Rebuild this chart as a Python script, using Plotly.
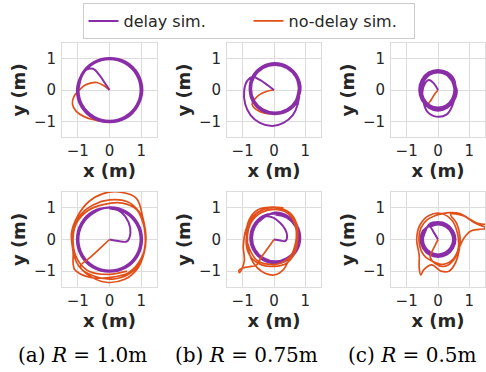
import plotly.graph_objects as go

# ---------------- data (x, y) ----------------
# Row 1 (top): panels (a) R=1.0, (b) R=0.75, (c) R=0.5
delay_top_a = [(0,0),(-0.12,0.18),(-0.3,0.45),(-0.52,0.68),(-0.74,0.64),(-0.92,0.42),
    (-1.0,0.02),(-0.87,-0.5),(-0.5,-0.87),(0,-1.0),(0.5,-0.87),(0.87,-0.5),(1.0,0),(0.87,0.5),(0.5,0.87),(0,1.0),(-0.5,0.87),(-0.87,0.5),
    (-1.03,0),(-0.9,-0.52),(-0.52,-0.9),(0,-1.03),(0.52,-0.9),(0.9,-0.5),(1.04,0),(0.9,0.52),(0.52,0.9),(0,1.02),(-0.5,0.89),(-0.88,0.5),
    (-0.98,0),(-0.85,-0.49),(-0.49,-0.85),(0,-0.98),(0.49,-0.85),(0.85,-0.49),(0.98,0),(0.85,0.49),(0.49,0.85),(0,0.98),(-0.49,0.85),(-0.85,0.49),(-0.98,0)]
nodelay_top_a = [(0,0),(-0.2,0.15),(-0.4,0.24),(-0.6,0.22),(-0.78,0.15),(-0.95,0.0),(-1.12,-0.2),(-1.17,-0.45),(-1.05,-0.68),(-0.8,-0.85),(-0.5,-0.95),
    (0,-1.02),(0.5,-0.87),(0.87,-0.5),(1.0,0),(0.87,0.5),(0.5,0.87),(0,1.0),(-0.5,0.87),(-0.87,0.5),(-1.0,0),(-0.87,-0.5),(-0.5,-0.87),
    (0,-1.01),(0.5,-0.87),(0.87,-0.5),(1.0,0),(0.87,0.5),(0.5,0.87),(0,1.0),(-0.5,0.87),(-0.87,0.5),(-1.0,0)]

delay_top_b = [(0,0),(-0.2,0.15),(-0.45,0.32),(-0.68,0.42),(-0.85,0.3),(-0.95,0.0),(-0.92,-0.45),(-0.75,-0.8),(-0.45,-1.05),(-0.05,-1.15),(0.3,-1.05),(0.6,-0.8),(0.76,-0.45),
    (0.81,0.04),(0.71,0.43),(0.42,0.72),(0.03,0.82),(-0.36,0.72),(-0.65,0.43),(-0.75,0.04),(-0.65,-0.35),(-0.36,-0.64),(0.03,-0.74),(0.42,-0.64),(0.71,-0.35),
    (0.85,0.04),(0.74,0.45),(0.44,0.75),(0.03,0.86),(-0.38,0.75),(-0.68,0.45),(-0.78,0.04),(-0.68,-0.37),(-0.38,-0.67),(0.03,-0.77),(0.44,-0.67),(0.74,-0.37),
    (0.79,0.04),(0.69,0.42),(0.41,0.7),(0.03,0.8),(-0.35,0.7),(-0.63,0.42),(-0.73,0.04),(-0.63,-0.34),(-0.35,-0.62),(0.03,-0.72),(0.41,-0.62),(0.69,-0.34),(0.79,0.04)]
nodelay_top_b = [(0,0),(-0.22,-0.04),(-0.45,-0.14),(-0.62,-0.3),(-0.7,-0.45),(-0.5,-0.66),(0.0,-0.76),(0.42,-0.66),(0.72,-0.36),(0.82,0.04),(0.72,0.44),(0.43,0.74),
    (0.03,0.84),(-0.36,0.74),(-0.66,0.44),(-0.76,0.04),(-0.66,-0.36),(-0.37,-0.66),(0.03,-0.76),(0.43,-0.66),(0.73,-0.36),(0.83,0.04),(0.72,0.44),(0.43,0.74),(0.03,0.83)]

delay_top_c = [(0,0),(-0.14,0.22),(-0.29,0.32),(-0.42,0.2),(-0.5,-0.08),(-0.46,-0.4),(-0.35,-0.68),(-0.05,-0.85),(0.28,-0.78),(0.45,-0.52),(0.55,-0.15),
    (0.48,0.3),(0.28,0.52),(0,0.6),(-0.28,0.52),(-0.48,0.3),(-0.55,0),(-0.48,-0.3),(-0.28,-0.52),(0,-0.6),(0.28,-0.52),(0.48,-0.3),(0.55,0),
    (0.52,0.32),(0.3,0.56),(0,0.64),(-0.3,0.56),(-0.52,0.32),(-0.6,0),(-0.52,-0.32),(-0.3,-0.56),(0,-0.66),(0.3,-0.56),(0.52,-0.32),(0.6,0),
    (0.45,0.28),(0.26,0.49),(0,0.56),(-0.26,0.49),(-0.45,0.28),(-0.52,0),(-0.45,-0.28),(-0.26,-0.49),(0,-0.56),(0.26,-0.49),(0.45,-0.28),(0.52,0),(0.45,0.28)]
nodelay_top_c = [(0,0),(-0.12,-0.15),(-0.22,-0.32),(-0.3,-0.45),(0,-0.6),(0.3,-0.53),(0.52,-0.3),(0.58,0),(0.5,0.32),(0.3,0.55),(0,0.62),(-0.3,0.53),
    (-0.52,0.3),(-0.58,0),(-0.5,-0.32),(-0.28,-0.53),(0,-0.62),(0.3,-0.53),(0.52,-0.3),(0.58,0),(0.5,0.32),(0.3,0.55)]

# Row 2 (bottom)
delay_bot_a = [(0,0),(0.28,-0.05),(0.55,-0.06),(0.66,0.2),(0.6,0.55),(0.38,0.85),(0.05,1.0),
    (-0.5,0.87),(-0.87,0.5),(-1.0,0),(-0.87,-0.5),(-0.5,-0.87),(0,-1.0),(0.5,-0.87),(0.87,-0.5),(1.0,0),(0.87,0.5),(0.5,0.87),(0,1.0),
    (-0.52,0.89),(-0.89,0.52),(-1.03,0),(-0.89,-0.52),(-0.52,-0.89),(0,-1.02),(0.52,-0.89),(0.89,-0.52),(1.03,0),(0.89,0.52),(0.52,0.89),(0,1.02),
    (-0.49,0.85),(-0.85,0.49),(-0.98,0),(-0.85,-0.49),(-0.49,-0.85),(0,-0.98),(0.49,-0.85),(0.85,-0.49),(0.98,0),(0.85,0.49),(0.49,0.85),(0,0.98)]
nodelay_bot_a = [(0,0),(-0.3,-0.28),(-0.6,-0.56),(-0.92,-0.86),
    (-0.5,-1.15),(0.1,-1.25),(0.6,-1.1),(0.95,-0.75),(1.12,-0.2),(1.1,0.35),(0.95,0.85),(0.55,1.2),(0.0,1.25),(-0.5,1.1),(-0.9,0.8),(-1.12,0.35),(-1.15,-0.2),(-1.05,-0.7),
    (-0.7,-1.1),(-0.1,-1.35),(0.5,-1.25),(0.9,-0.9),(1.1,-0.4),(1.15,0.1),(1.05,0.7),(0.85,1.3),(0.3,1.5),(-0.2,1.45),(-0.65,1.2),(-1.0,0.75),(-1.2,0.2),(-1.15,-0.4),(-1.1,-0.95),
    (-0.6,-1.2),(0.0,-1.2),(0.6,-1.05),(1.0,-0.6),(1.15,0.0),(1.05,0.55),(0.85,0.95),(0.4,1.15),(-0.2,1.1),(-0.7,0.9),(-1.05,0.5),(-1.15,-0.1),(-1.0,-0.65),(-0.65,-1.0),(0.0,-1.1),(0.55,-1.0)]

delay_bot_b = [(0,0),(0.2,-0.03),(0.36,-0.05),(0.42,0.12),(0.35,0.33),(0.2,0.52),(-0.05,0.7),
    (-0.34,0.71),(-0.62,0.43),(-0.72,0.05),(-0.62,-0.33),(-0.34,-0.61),(0.04,-0.71),(0.42,-0.61),(0.7,-0.33),(0.8,0.05),(0.7,0.43),(0.42,0.71),(0.04,0.81),
    (-0.36,0.74),(-0.65,0.45),(-0.76,0.05),(-0.65,-0.35),(-0.36,-0.64),(0.04,-0.75),(0.44,-0.64),(0.73,-0.35),(0.84,0.05),(0.73,0.45),(0.44,0.74),(0.04,0.85),
    (-0.33,0.69),(-0.6,0.42),(-0.7,0.05),(-0.6,-0.32),(-0.33,-0.59),(0.04,-0.69),(0.41,-0.59),(0.68,-0.32),(0.78,0.05),(0.68,0.42),(0.41,0.69),(0.04,0.79)]
nodelay_bot_b = [(0,0),(-0.2,-0.28),(-0.4,-0.55),(-0.56,-0.81),(-0.8,-0.86),(-1.0,-0.9),(-1.12,-0.97),(-1.1,-1.05),
    (-0.95,-0.7),(-0.98,-0.2),(-0.9,0.3),(-0.7,0.7),(-0.35,0.95),(0.1,1.0),(0.5,0.85),(0.72,0.5),(0.75,0.0),(0.65,-0.45),(0.4,-0.75),(0.0,-0.85),(-0.4,-0.8),(-0.7,-0.6),
    (-0.88,-0.2),(-0.82,0.35),(-0.58,0.8),(-0.15,1.0),(0.3,0.95),(0.62,0.65),(0.72,0.15),(0.62,-0.35),(0.45,-0.7),(0.3,-0.95),(0.0,-1.12),(-0.4,-1.0),(-0.65,-0.75),(-0.8,-0.4),
    (-0.85,0.1),(-0.72,0.55),(-0.4,0.85),(0.05,0.95),(0.45,0.82),(0.68,0.45),(0.7,-0.05),(0.55,-0.5),(0.2,-0.75),(-0.2,-0.78),(-0.55,-0.65),(-0.78,-0.3),(-0.88,0.15),(-0.78,0.65),(-0.5,0.95),(-0.1,1.02),(0.3,1.0)]

delay_bot_c = [(0,0),(-0.12,0.2),(-0.28,0.42),
    (-0.44,0.25),(-0.52,0),(-0.44,-0.25),(-0.25,-0.44),(0,-0.5),(0.25,-0.44),(0.44,-0.25),(0.52,0),(0.44,0.25),(0.25,0.44),(0,0.5),(-0.25,0.44),
    (-0.48,0.28),(-0.56,0),(-0.48,-0.28),(-0.28,-0.48),(0,-0.55),(0.28,-0.48),(0.48,-0.28),(0.56,0),(0.48,0.28),(0.28,0.48),(0,0.55),(-0.28,0.48),
    (-0.41,0.24),(-0.48,0),(-0.41,-0.24),(-0.24,-0.41),(0,-0.47),(0.24,-0.41),(0.41,-0.24),(0.48,0),(0.41,0.24),(0.24,0.41),(0,0.47),(-0.24,0.41)]
nodelay_bot_c = [(0,0),(-0.1,-0.2),(-0.2,-0.4),(-0.25,-0.55),
    (-0.1,-0.75),(0.2,-0.85),(0.5,-0.65),(0.65,-0.25),(0.62,0.2),(0.45,0.6),(0.1,0.82),(-0.3,0.75),(-0.58,0.45),(-0.68,0.0),(-0.6,-0.5),(-0.6,-0.9),(-0.55,-1.12),(-0.45,-0.95),
    (-0.2,-0.8),(0.1,-1.0),(0.35,-1.0),(0.55,-0.75),(0.68,-0.3),(0.7,0.1),(0.6,0.5),(0.4,0.8),(0.8,0.75),(1.15,0.54),(1.47,0.4),(1.6,0.35),(1.31,0.32),(1.05,0.27),(0.83,0.05),
    (0.67,-0.27),(0.5,-0.6),(0.2,-0.78),(-0.15,-0.7),(-0.45,-0.5),(-0.6,-0.1),(-0.55,0.35),(-0.35,0.62),(0.0,0.78),(0.35,0.85),(0.7,0.82),(1.0,0.65),(1.3,0.5),(1.6,0.48)]

series_names = ["delay sim.", "no-delay sim."]
captions = ["(a) <i>R</i> = 1.0m", "(b) <i>R</i> = 0.75m", "(c) <i>R</i> = 0.5m"]
tick_vals = [-1, 0, 1]
axis_range = [-1.5, 1.5]

# ---------------- styling / layout ----------------
PURPLE = "#8a2ea8"
ORANGE = "#e2501a"
W, H = 486, 372
col_px = [(62, 157), (227, 321), (391, 485)]
row_px = [(43, 137), (192, 287)]

panels = [
    (delay_top_a, nodelay_top_a), (delay_top_b, nodelay_top_b), (delay_top_c, nodelay_top_c),
    (delay_bot_a, nodelay_bot_a), (delay_bot_b, nodelay_bot_b), (delay_bot_c, nodelay_bot_c),
]

fig = go.Figure()
legend_done = {0: False, 1: False}
for i, (dl, nd) in enumerate(panels):
    row = i // 3
    ax = "" if i == 0 else str(i + 1)
    tr = {}
    for k, data in enumerate([dl, nd]):
        show = not legend_done[k]
        legend_done[k] = True
        tr[k] = go.Scatter(
            x=[p[0] for p in data], y=[p[1] for p in data], mode="lines",
            line=dict(color=PURPLE if k == 0 else ORANGE, width=2.0 if k == 0 else 1.7,
                      shape="spline", smoothing=1.0),
            name=series_names[k], showlegend=show, legendrank=k + 1,
            xaxis="x" + ax, yaxis="y" + ax, hoverinfo="skip")
    order = [1, 0] if row == 0 else [0, 1]
    for k in order:
        fig.add_trace(tr[k])

tick_font = dict(family="DejaVu Sans", size=15, color="#262626")
title_font = dict(family="DejaVu Sans", size=18, color="#262626", weight="bold")
axis_common = dict(range=axis_range, tickvals=tick_vals, showgrid=True, gridcolor="#dcdcdc",
                   gridwidth=1, zeroline=False, showline=True, linecolor="#dcdcdc", linewidth=1,
                   mirror=True, ticks="", tickfont=tick_font, fixedrange=True, automargin=False)
layout = dict(width=W, height=H, margin=dict(l=0, r=0, t=0, b=0, autoexpand=False),
              paper_bgcolor="white", plot_bgcolor="white")
for i in range(6):
    row, col = i // 3, i % 3
    ax = "" if i == 0 else str(i + 1)
    x0, x1 = col_px[col]
    y0, y1 = row_px[row]
    layout["xaxis" + ax] = dict(axis_common, domain=[x0 / W, x1 / W], anchor="y" + ax,
                                title=dict(text="x (m)", font=title_font, standoff=1),
                                ticklabelstandoff=0)
    layout["yaxis" + ax] = dict(axis_common, domain=[1 - y1 / H, 1 - y0 / H], anchor="x" + ax,
                                title=dict(text="y (m)", font=title_font, standoff=3),
                                ticklabelstandoff=2)
fig.update_layout(**layout)
fig.update_layout(legend=dict(orientation="h", x=248.5 / W, xanchor="center", y=1 - 3 / H, yanchor="top",
                              font=dict(family="DejaVu Sans", size=16, color="#262626"),
                              bordercolor="#cccccc", borderwidth=1, bgcolor="white",
                              entrywidth=120, entrywidthmode="pixels"))
for cx, txt in zip([82, 247, 412], captions):
    fig.add_annotation(x=cx / W, y=1 - 355 / H, xref="paper", yref="paper", text=txt, showarrow=False,
                       font=dict(family="DejaVu Serif", size=20, color="black"),
                       xanchor="center", yanchor="middle")

fig.write_html("out.html", config={"displayModeBar": False, "staticPlot": True},
               post_script="document.body.style.margin='0px';")
